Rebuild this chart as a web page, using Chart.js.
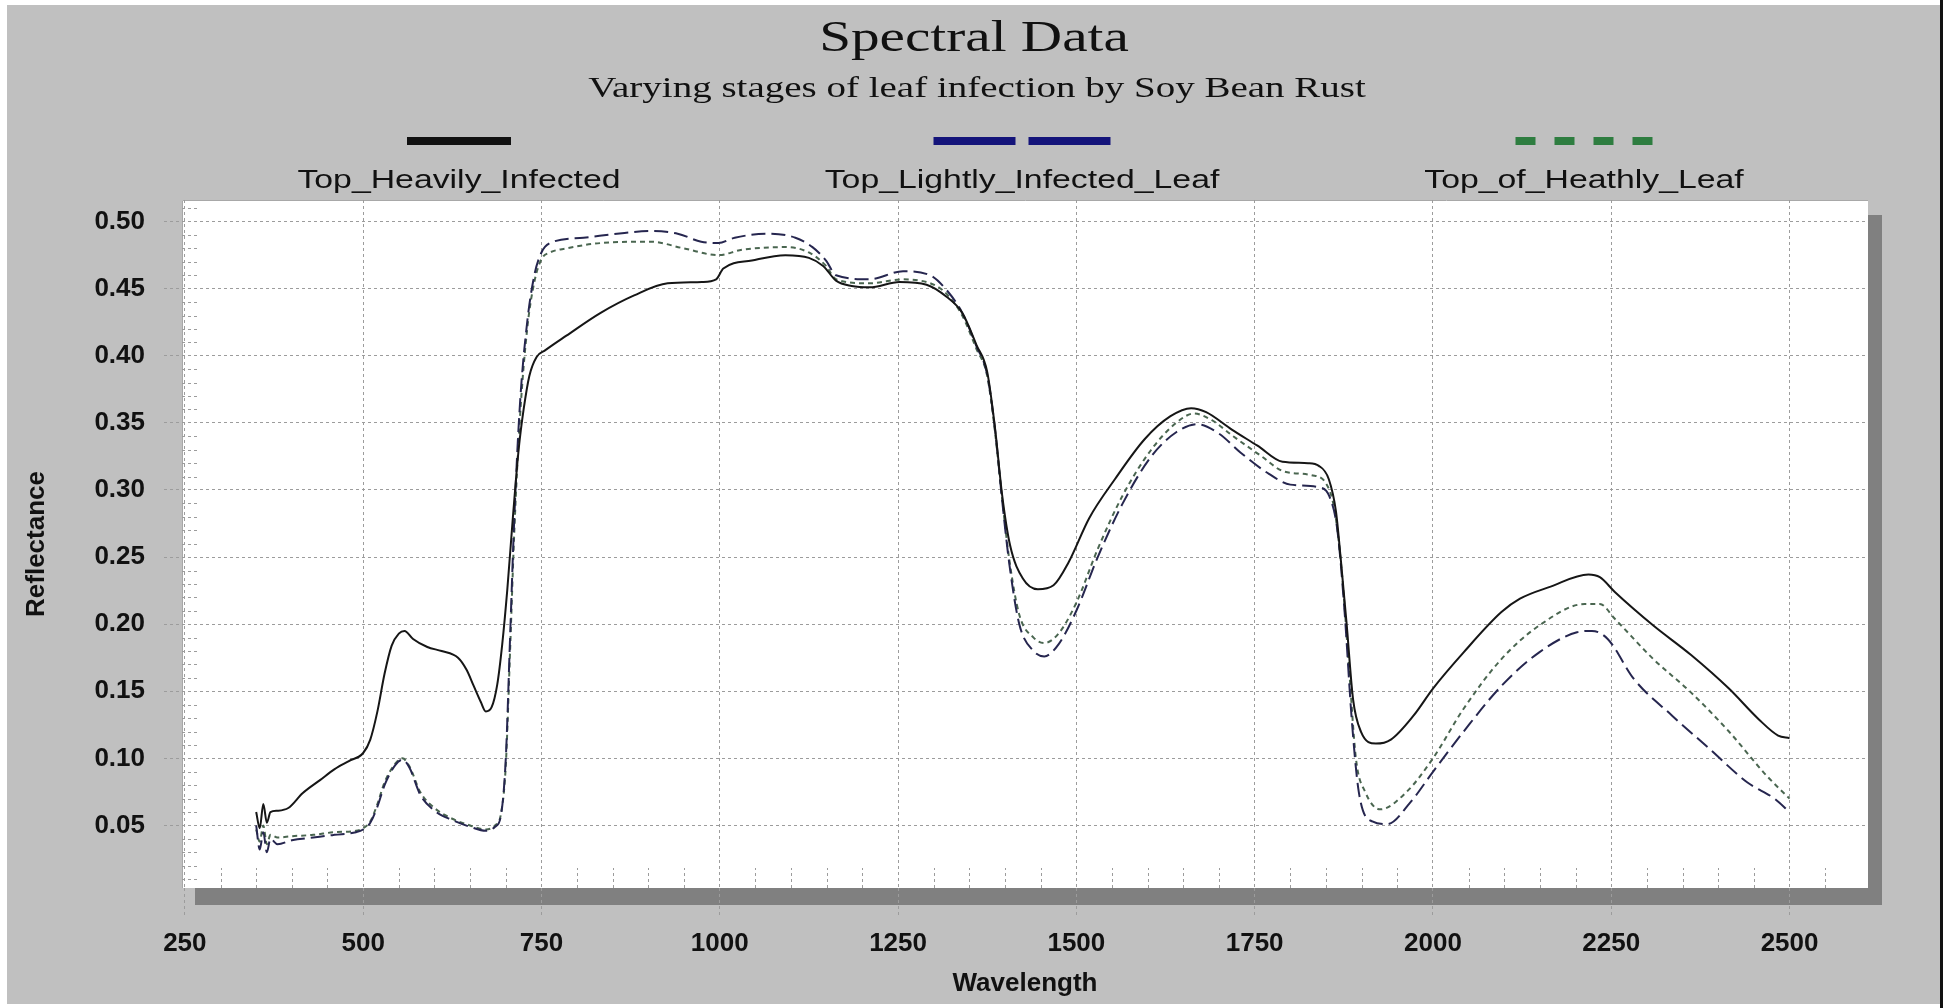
<!DOCTYPE html>
<html>
<head>
<meta charset="utf-8">
<title>Spectral Data</title>
<script src="https://cdn.jsdelivr.net/npm/chart.js@4.4.1/dist/chart.umd.min.js"></script>
<style>
  html, body { margin: 0; padding: 0; background: #fff; }
  canvas { display: block; }
</style>
</head>
<body>
<canvas id="spectra" width="1946" height="1008"></canvas>
<script>
// series names, as in the legend
const seriesNames = ['Top_Heavily_Infected', 'Top_Lightly_Infected_Leaf', 'Top_of_Heathly_Leaf'];

// Top_Heavily_Infected (solid)
const heavyWavelength = [350, 355, 360, 365, 370, 380, 395, 415, 440, 460, 480, 500, 510, 520, 530, 540, 550, 558, 570, 590,
  610, 633, 645, 655, 665, 672, 680, 688, 695, 702, 710, 718, 725, 733, 743, 755, 785, 833, 880, 927,
  975, 995, 1005, 1045, 1092, 1125, 1145, 1163, 1185, 1210, 1252, 1290, 1318, 1340, 1360, 1375, 1386, 1396, 1407, 1425,
  1446, 1468, 1489, 1518, 1554, 1596, 1632, 1661, 1682, 1718, 1754, 1789, 1825, 1840, 1854, 1864, 1871, 1879, 1888, 1899,
  1920, 1941, 1973, 2000, 2043, 2096, 2122, 2165, 2218, 2234, 2255, 2309, 2362, 2415, 2457, 2484, 2500];
const heavyReflectance = [0.060, 0.048, 0.066, 0.052, 0.060, 0.061, 0.063, 0.074, 0.084, 0.092, 0.098, 0.104, 0.114, 0.135, 0.163, 0.184, 0.193, 0.195, 0.189, 0.183,
  0.180, 0.175, 0.166, 0.154, 0.142, 0.135, 0.138, 0.155, 0.185, 0.225, 0.280, 0.330, 0.360, 0.385, 0.399, 0.404, 0.415, 0.432, 0.445, 0.454,
  0.455, 0.457, 0.465, 0.471, 0.475, 0.473, 0.467, 0.456, 0.452, 0.451, 0.455, 0.453, 0.444, 0.432, 0.408, 0.388, 0.346, 0.296, 0.259, 0.234,
  0.226, 0.229, 0.246, 0.279, 0.308, 0.338, 0.355, 0.361, 0.358, 0.345, 0.333, 0.321, 0.320, 0.318, 0.308, 0.284, 0.247, 0.200, 0.144, 0.120,
  0.111, 0.114, 0.132, 0.152, 0.179, 0.209, 0.219, 0.228, 0.237, 0.235, 0.224, 0.199, 0.177, 0.152, 0.129, 0.117, 0.115];

// Top_Lightly_Infected_Leaf (long dashes)
const lightWavelength = [350, 355, 360, 365, 370, 380, 400, 430, 460, 490, 500, 510, 520, 530, 545, 555, 565, 580, 600, 625,
  650, 672, 685, 693, 700, 706, 712, 720, 730, 740, 750, 762, 809, 856, 903, 941, 974, 998, 1021, 1068,
  1106, 1130, 1149, 1163, 1210, 1257, 1295, 1318, 1340, 1360, 1375, 1386, 1396, 1406, 1420, 1440, 1455, 1475, 1500, 1530,
  1565, 1605, 1640, 1670, 1700, 1730, 1770, 1800, 1840, 1855, 1866, 1876, 1886, 1896, 1915, 1936, 1968, 2000, 2043, 2096,
  2149, 2202, 2223, 2245, 2282, 2335, 2388, 2441, 2479, 2500];
const lightReflectance = [0.050, 0.032, 0.045, 0.030, 0.040, 0.036, 0.039, 0.041, 0.043, 0.045, 0.047, 0.052, 0.064, 0.080, 0.095, 0.099, 0.093, 0.073, 0.061, 0.054,
  0.049, 0.046, 0.049, 0.057, 0.100, 0.190, 0.280, 0.365, 0.425, 0.460, 0.477, 0.484, 0.488, 0.491, 0.493, 0.491, 0.485, 0.484, 0.488, 0.491,
  0.488, 0.481, 0.471, 0.460, 0.457, 0.463, 0.460, 0.449, 0.432, 0.407, 0.386, 0.345, 0.292, 0.245, 0.200, 0.180, 0.176, 0.185, 0.210, 0.250,
  0.290, 0.325, 0.343, 0.349, 0.342, 0.328, 0.312, 0.304, 0.302, 0.295, 0.270, 0.210, 0.130, 0.075, 0.053, 0.051, 0.067, 0.090, 0.120, 0.154,
  0.179, 0.194, 0.195, 0.189, 0.159, 0.132, 0.107, 0.082, 0.070, 0.060];

// Top_of_Heathly_Leaf (short dashes)
const healthyWavelength = [350, 355, 360, 365, 370, 380, 400, 430, 460, 490, 500, 510, 520, 530, 545, 555, 565, 580, 600, 625,
  650, 672, 685, 693, 700, 706, 712, 720, 730, 740, 750, 762, 785, 833, 903, 950, 998, 1031, 1092, 1125,
  1149, 1163, 1210, 1257, 1304, 1320, 1340, 1360, 1375, 1386, 1396, 1406, 1420, 1440, 1455, 1475, 1500, 1530, 1565, 1605,
  1640, 1665, 1690, 1720, 1760, 1790, 1830, 1850, 1862, 1872, 1882, 1892, 1905, 1926, 1963, 2000, 2043, 2096, 2149, 2213,
  2234, 2255, 2309, 2362, 2415, 2468, 2500];
const healthyReflectance = [0.047, 0.038, 0.050, 0.036, 0.043, 0.041, 0.042, 0.043, 0.045, 0.046, 0.048, 0.053, 0.066, 0.082, 0.096, 0.100, 0.094, 0.075, 0.063, 0.055,
  0.050, 0.047, 0.050, 0.058, 0.095, 0.180, 0.270, 0.355, 0.420, 0.455, 0.472, 0.477, 0.480, 0.484, 0.485, 0.480, 0.475, 0.479, 0.481, 0.477,
  0.467, 0.457, 0.454, 0.457, 0.452, 0.445, 0.430, 0.405, 0.385, 0.343, 0.293, 0.248, 0.207, 0.190, 0.186, 0.193, 0.216, 0.256, 0.296, 0.330,
  0.350, 0.357, 0.352, 0.340, 0.325, 0.314, 0.311, 0.305, 0.285, 0.240, 0.170, 0.100, 0.075, 0.062, 0.075, 0.100, 0.137, 0.174, 0.199, 0.215,
  0.215, 0.204, 0.174, 0.149, 0.120, 0.087, 0.070];

const xTickValues = [250, 500, 750, 1000, 1250, 1500, 1750, 2000, 2250, 2500];
const yTickValues = [0.05, 0.10, 0.15, 0.20, 0.25, 0.30, 0.35, 0.40, 0.45, 0.50];

const toPoints = (xs, ys) => xs.map((x, i) => ({ x: x, y: ys[i] }));

const GRID = '#9c9c9c';

// gray window, shadowed white plot box
const backdrop = {
  id: 'backdrop',
  beforeDraw(chart) {
    const { ctx, chartArea: a } = chart;
    ctx.save();
    ctx.fillStyle = '#ffffff';
    ctx.fillRect(0, 0, chart.width, chart.height);
    ctx.fillStyle = '#c0c0c0';
    ctx.fillRect(7, 5, 1933, 999);
    ctx.fillStyle = '#111';
    ctx.fillRect(1940, 0, 3, chart.height);
    ctx.fillStyle = '#808080';
    ctx.fillRect(a.right, a.top + 15, 14, a.bottom - a.top + 2);
    ctx.fillRect(a.left + 13, a.bottom, a.right - a.left + 1, 17);
    ctx.fillStyle = '#ffffff';
    ctx.fillRect(a.left, a.top, a.right - a.left, a.bottom - a.top);
    ctx.strokeStyle = '#a8a8a8';
    ctx.lineWidth = 1;
    ctx.beginPath();
    ctx.moveTo(a.left + 0.5, a.bottom);
    ctx.lineTo(a.left + 0.5, a.top + 0.5);
    ctx.lineTo(a.right, a.top + 0.5);
    ctx.stroke();
    ctx.restore();
  }
};

// small inner ticks along the bottom and left of the plot
const minorTicks = {
  id: 'minorTicks',
  beforeDatasetsDraw(chart) {
    const { ctx, chartArea: a, scales: { x, y } } = chart;
    ctx.save();
    ctx.strokeStyle = GRID;
    ctx.lineWidth = 1;
    ctx.setLineDash([3, 3]);
    ctx.beginPath();
    for (let v = 300; v < 2600; v += 50) {
      if (v % 250 === 0) continue;
      const px = Math.round(x.getPixelForValue(v)) + 0.5;
      ctx.moveTo(px, a.bottom);
      ctx.lineTo(px, a.bottom - 20);
    }
    for (let k = 1; k <= 51; k++) {
      if (k % 5 === 0) continue;
      const py = Math.round(y.getPixelForValue(k / 100)) + 0.5;
      ctx.moveTo(a.left, py);
      ctx.lineTo(a.left + 15, py);
    }
    ctx.stroke();
    ctx.restore();
  }
};

// title, subtitle and the legend (sample line above each name)
const header = {
  id: 'header',
  afterDraw(chart) {
    const { ctx } = chart;
    const stretch = 1.3;
    const text = (str, font, x, y) => {
      ctx.save();
      ctx.font = font;
      ctx.fillStyle = '#111';
      ctx.textAlign = 'center';
      ctx.textBaseline = 'alphabetic';
      ctx.translate(x, y);
      ctx.scale(stretch, 1);
      ctx.fillText(str, 0, 0);
      ctx.restore();
    };
    text('Spectral Data', '44px "Liberation Serif"', 974, 51);
    text('Varying stages of leaf infection by Soy Bean Rust', '30px "Liberation Serif"', 977, 97);

    const centers = [459, 1022, 1584];
    const samples = [
      { len: 104, dash: [], color: '#111111' },
      { len: 177, dash: [82, 13], color: '#14147a' },
      { len: 137, dash: [20, 19], color: '#2e7d40' }
    ];
    chart.data.datasets.forEach((ds, i) => {
      const cx = centers[i];
      const s = samples[i];
      ctx.save();
      ctx.strokeStyle = s.color;
      ctx.lineWidth = 8;
      ctx.setLineDash(s.dash);
      ctx.beginPath();
      ctx.moveTo(cx - s.len / 2, 141);
      ctx.lineTo(cx + s.len / 2, 141);
      ctx.stroke();
      ctx.restore();
      text(ds.label, '26px "Liberation Sans"', cx, 188);
    });
  }
};

new Chart(document.getElementById('spectra'), {
  type: 'line',
  data: {
    datasets: [
      {
        label: seriesNames[0],
        data: toPoints(heavyWavelength, heavyReflectance),
        borderColor: '#161616',
        borderWidth: 2,
        pointRadius: 0,
        cubicInterpolationMode: 'monotone',
        tension: 0.4
      },
      {
        label: seriesNames[1],
        data: toPoints(lightWavelength, lightReflectance),
        borderColor: '#26264f',
        borderWidth: 2,
        borderDash: [14, 6],
        pointRadius: 0,
        cubicInterpolationMode: 'monotone',
        tension: 0.4
      },
      {
        label: seriesNames[2],
        data: toPoints(healthyWavelength, healthyReflectance),
        borderColor: '#4a6650',
        borderWidth: 2,
        borderDash: [5, 4],
        pointRadius: 0,
        cubicInterpolationMode: 'monotone',
        tension: 0.4
      }
    ]
  },
  options: {
    responsive: false,
    animation: false,
    devicePixelRatio: 1,
    layout: { padding: { top: 200, right: 78, bottom: 0, left: 0 } },
    plugins: {
      legend: { display: false },
      title: { display: false },
      tooltip: { enabled: false }
    },
    scales: {
      x: {
        type: 'linear',
        min: 246,
        max: 2610,
        afterFit: (scale) => { scale.height = 120; },
        afterBuildTicks: (scale) => { scale.ticks = xTickValues.map(v => ({ value: v })); },
        grid: { color: GRID, tickLength: 28, tickColor: GRID, tickBorderDash: [3, 3] },
        border: { display: false, dash: [3, 3] },
        ticks: {
          color: '#111',
          font: { family: 'Liberation Sans', size: 26, weight: 'bold' },
          padding: 12,
          maxRotation: 0,
          autoSkip: false,
          callback: (v) => String(v)
        },
        title: {
          display: true,
          text: 'Wavelength',
          color: '#111',
          font: { family: 'Liberation Sans', size: 26, weight: 'bold' },
          padding: { top: 0, bottom: 9 }
        }
      },
      y: {
        type: 'linear',
        min: 0.0034,
        max: 0.5161,
        afterFit: (scale) => { scale.width = 182; },
        afterBuildTicks: (scale) => { scale.ticks = yTickValues.map(v => ({ value: v })); },
        grid: { color: GRID, tickLength: 18, tickColor: GRID, tickBorderDash: [3, 3] },
        border: { display: false, dash: [3, 3] },
        ticks: {
          color: '#111',
          font: { family: 'Liberation Sans', size: 26, weight: 'bold' },
          padding: 19,
          callback: (v) => v.toFixed(2)
        },
        title: {
          display: true,
          text: 'Reflectance',
          color: '#111',
          font: { family: 'Liberation Sans', size: 26, weight: 'bold' },
          padding: { top: 21, bottom: 0 }
        }
      }
    }
  },
  plugins: [backdrop, minorTicks, header]
});
</script>
</body>
</html>
